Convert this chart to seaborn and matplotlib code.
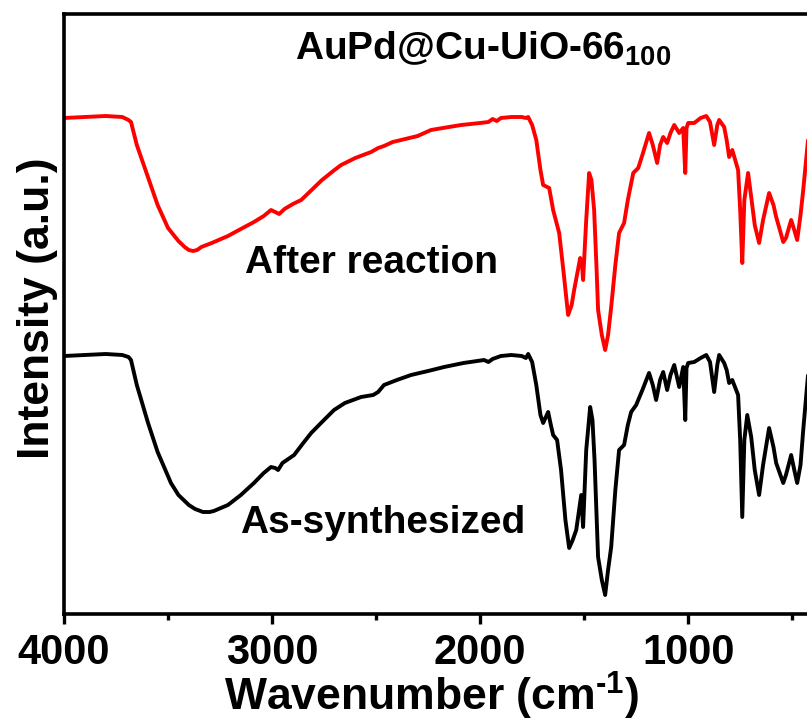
import numpy as np
import pandas as pd
import seaborn as sns
import matplotlib
matplotlib.use("Agg")
import matplotlib.pyplot as plt
from matplotlib.ticker import MultipleLocator, FixedLocator

# ---------------- data ----------------
wn_after = [4000, 3900, 3800, 3720, 3690, 3678, 3650, 3600, 3550, 3500, 3450, 3420, 3400, 3380, 3360, 3340,
            3290, 3212, 3150, 3087, 3040, 3005, 2985, 2966, 2940, 2900, 2860, 2800, 2760, 2700,
            2668, 2600, 2524, 2490, 2462, 2420, 2380, 2300, 2236, 2150, 2091, 2000, 1960, 1940,
            1920, 1900, 1850, 1800, 1780, 1769, 1750, 1730, 1710, 1697, 1668, 1649, 1620, 1600,
            1577, 1560, 1548, 1519, 1510, 1505, 1490, 1476, 1465, 1452, 1440, 1433, 1415, 1399,
            1385, 1370, 1350, 1332, 1308, 1290, 1264, 1240, 1220, 1188, 1170, 1149, 1135, 1120,
            1101, 1085, 1067, 1043, 1024, 1014, 1008, 1000, 971, 940, 913, 895, 875, 860, 851,
            827, 815, 803, 788, 760, 750, 740, 730, 712, 697, 680, 659, 640, 611, 590, 577, 543,
            530, 505, 490, 476, 460, 447, 423]
int_after = [496, 497, 498, 497, 494, 492, 469, 439, 409, 386, 373, 367, 364, 363, 364, 367,
             371, 378, 385, 392, 398, 404, 402, 400, 405, 410, 414, 426, 434, 444,
             449, 456, 462, 466, 468, 472, 474, 478, 484, 487, 489, 491, 492, 495,
             493, 496, 497, 497, 496, 497, 489, 474, 444, 429, 426, 404, 381, 344,
             299, 309, 324, 356, 349, 334, 394, 441, 434, 404, 344, 304, 279, 264,
             279, 307, 349, 381, 391, 414, 441, 446, 459, 481, 469, 451, 469, 477,
             471, 481, 489, 481, 486, 441, 486, 491, 491, 496, 498, 492, 469, 489, 494,
             487, 474, 457, 464, 444, 404, 351, 414, 441, 417, 389, 371, 394, 421, 409, 397, 372,
             376, 394, 384, 374, 399, 424, 476]

wn_as = [4000, 3900, 3800, 3720, 3690, 3678, 3650, 3596, 3550, 3486, 3450, 3400, 3370, 3332, 3300, 3280,
         3212, 3150, 3087, 3040, 3005, 2985, 2971, 2950, 2894, 2850, 2812, 2760, 2702, 2650,
         2572, 2514, 2490, 2462, 2400, 2332, 2250, 2173, 2080, 1981, 1960, 1940, 1900, 1850,
         1800, 1780, 1769, 1750, 1730, 1710, 1697, 1673, 1660, 1649, 1630, 1611, 1590, 1572,
         1555, 1538, 1514, 1505, 1490, 1471, 1460, 1450, 1433, 1415, 1399, 1385, 1370, 1350,
         1332, 1308, 1290, 1274, 1250, 1220, 1188, 1170, 1154, 1135, 1120, 1101, 1085, 1067,
         1043, 1024, 1014, 1008, 1000, 971, 940, 913, 895, 875, 860, 851, 827, 815, 803, 788,
         760, 750, 740, 730, 716, 697, 680, 659, 640, 611, 590, 577, 543, 530, 505, 490, 476,
         460, 447, 423]
int_as = [258, 259, 260, 259, 257, 254, 229, 191, 162, 131, 119, 109, 105, 102, 102, 103,
          109, 119, 131, 141, 147, 146, 144, 151, 159, 171, 181, 192, 204, 211,
          217, 219, 222, 229, 234, 239, 243, 247, 251, 254, 252, 255, 258, 259,
          258, 256, 260, 252, 229, 199, 191, 202, 189, 179, 174, 144, 94, 66,
          74, 84, 119, 87, 164, 207, 194, 154, 57, 34, 19, 44, 67, 124,
          164, 169, 189, 202, 209, 224, 241, 229, 214, 234, 242, 224, 239, 249,
          227, 247, 194, 246, 251, 252, 256, 259, 252, 222, 249, 259, 251, 244, 231, 234,
          219, 174, 97, 174, 199, 177, 144, 119, 149, 186, 167, 151, 131, 139, 159, 144, 131,
          149, 184, 241]

series_names = ["After reaction", "As-synthesized"]
series_colors = ["#FF0000", "#000000"]
title_text = "AuPd@Cu-UiO-66$_{\\mathbf{100}}$"
xlabel_text = "Wavenumber (cm$^{\\mathbf{\\text{-}1}}$)"
ylabel_text = "Intensity (a.u.)"
major_ticks = [4000, 3000, 2000, 1000]
major_labels = ["4000", "3000", "2000", "1000"]

df = pd.concat([
    pd.DataFrame({"wn": wn_after, "intensity": int_after, "sample": series_names[0]}),
    pd.DataFrame({"wn": wn_as, "intensity": int_as, "sample": series_names[1]}),
], ignore_index=True)

# ---------------- style ----------------
sns.set_theme(style="white")
plt.rcParams["font.family"] = ["Liberation Sans", "DejaVu Sans"]
plt.rcParams["font.weight"] = "bold"
plt.rcParams["text.color"] = "black"
plt.rcParams["axes.labelcolor"] = "black"
plt.rcParams["xtick.color"] = "black"
plt.rcParams["ytick.color"] = "black"
plt.rcParams["mathtext.fontset"] = "custom"
plt.rcParams["mathtext.rm"] = "Liberation Sans:bold"
plt.rcParams["mathtext.bf"] = "Liberation Sans:bold"
plt.rcParams["mathtext.it"] = "Liberation Sans:bold"

fig = plt.figure(figsize=(8.07, 7.24), dpi=100)
ax = fig.add_axes([64 / 807, 110 / 724, 749 / 807, 600 / 724])

sns.lineplot(data=df, x="wn", y="intensity", hue="sample",
             palette=dict(zip(series_names, series_colors)),
             linewidth=2.8, legend=False, errorbar=None, ax=ax)

ax.set_xlim(4000, 400)
ax.set_ylim(0, 600)

for side in ["left", "bottom", "top"]:
    ax.spines[side].set_visible(True)
    ax.spines[side].set_linewidth(2.6)
    ax.spines[side].set_color("black")
ax.spines["right"].set_visible(False)

ax.xaxis.set_major_locator(FixedLocator(major_ticks))
ax.set_xticklabels(major_labels)
ax.xaxis.set_minor_locator(MultipleLocator(500))
ax.tick_params(axis="x", which="major", direction="out", length=7.5, width=2.4,
               labelsize=30, pad=6, bottom=True, top=False, colors="black")
ax.tick_params(axis="x", which="minor", direction="out", length=4, width=2.4,
               bottom=True, top=False, colors="black")
for lab in ax.get_xticklabels():
    lab.set_fontweight("bold")
ax.set_yticks([])

ax.set_xlabel(xlabel_text, fontsize=32, fontweight="bold", color="black")
ax.xaxis.set_label_coords((431 - 64) / 749, -0.093)
ax.set_ylabel(ylabel_text, fontsize=32, fontweight="bold", color="black")
ax.yaxis.set_label_coords(-0.008, 0.51)

ax.text(1986, 554, title_text, fontsize=28, fontweight="bold", ha="center", va="baseline",
        color="black")
ax.text(3130, 341, series_names[0], fontsize=28, fontweight="bold", ha="left", va="baseline",
        color="black")
ax.text(3154, 81, series_names[1], fontsize=28, fontweight="bold", ha="left", va="baseline",
        color="black")

fig.savefig("out.png", dpi=100)
